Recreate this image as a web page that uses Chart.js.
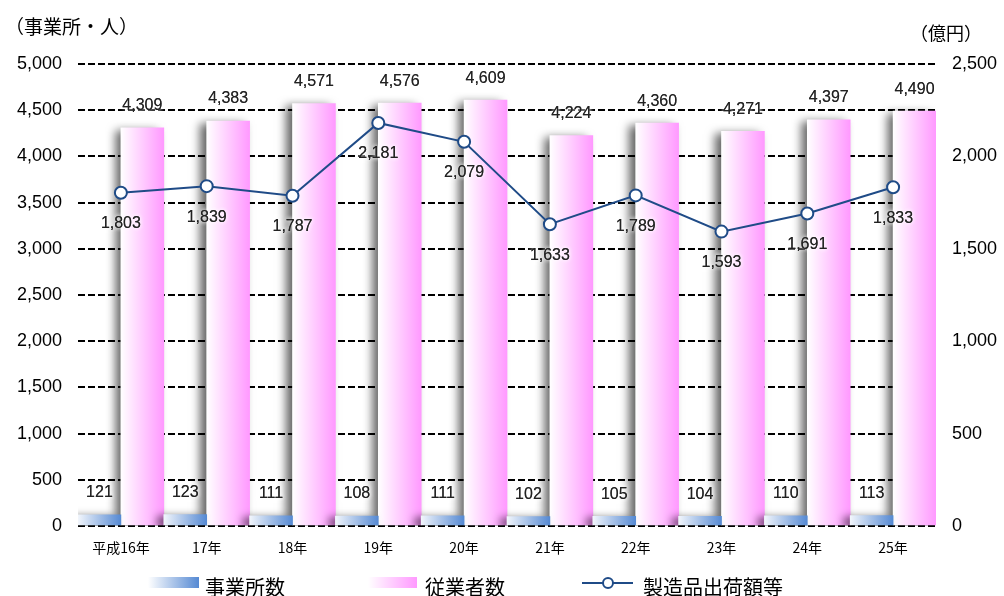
<!DOCTYPE html>
<html>
<head>
<meta charset="utf-8">
<script src="https://cdn.jsdelivr.net/npm/chart.js@4.4.1/dist/chart.umd.min.js"></script>
<style>
  html, body { margin: 0; padding: 0; background: #fff; }
  #wrap { width: 1004px; height: 596px; }
</style>
</head>
<body>
<div id="wrap"><canvas id="chart" width="1004" height="596"></canvas></div>
<script>
// Data
const years = ['平成16年', '17年', '18年', '19年', '20年', '21年', '22年', '23年', '24年', '25年'];
const establishments = [121, 123, 111, 108, 111, 102, 105, 104, 110, 113];      // 事業所数
const employees = [4309, 4383, 4571, 4576, 4609, 4224, 4360, 4271, 4397, 4490]; // 従業者数
const shipments = [1803, 1839, 1787, 2181, 2079, 1633, 1789, 1593, 1691, 1833]; // 製造品出荷額等 (億円)

const LINE_COLOR = '#1f4b87';
const NUM_FONT = '"Liberation Sans", Arial, sans-serif';
const JP_FONT = '"Noto Sans CJK JP", "Noto Sans", sans-serif';

const fmt = v => Number(v).toLocaleString('en-US');

// horizontal gradient across one bar (side 0 = left bar, 1 = right bar)
function barGradient(context, side, c0, c1) {
    const chart = context.chart;
    const x = chart.scales.x;
    if (!chart.chartArea || !x || context.dataIndex === undefined) return c1;
    const cw = (x.right - x.left) / years.length;
    const center = x.getPixelForValue(context.dataIndex);
    const left = side === 0 ? center - cw / 2 : center;
    const g = chart.ctx.createLinearGradient(left, 0, left + cw / 2, 0);
    g.addColorStop(0, c0);
    g.addColorStop(1, c1);
    return g;
}

// soft shadow on the left side of the bars
const barShadow = {
    id: 'barShadow',
    beforeDatasetDraw(chart, args) {
        if (args.meta.type !== 'bar') return;
        const ctx = chart.ctx;
        ctx.save();
        ctx.shadowColor = 'rgba(0,0,0,0.6)';
        ctx.shadowBlur = 9;
        ctx.shadowOffsetX = -6;
        ctx.shadowOffsetY = 2;
    },
    afterDatasetDraw(chart, args) {
        if (args.meta.type !== 'bar') return;
        chart.ctx.restore();
    }
};

// value labels with a white halo
const valueLabels = {
    id: 'valueLabels',
    afterDatasetsDraw(chart) {
        const ctx = chart.ctx;
        ctx.save();
        ctx.font = '16px ' + NUM_FONT;
        ctx.textAlign = 'center';
        ctx.textBaseline = 'middle';
        ctx.fillStyle = '#222';
        ctx.shadowColor = '#fff';
        ctx.shadowBlur = 4;
        chart.data.datasets.forEach((ds, i) => {
            const meta = chart.getDatasetMeta(i);
            meta.data.forEach((el, j) => {
                const y = meta.type === 'line' ? el.y + 31 : el.y - 22;
                ctx.fillText(fmt(ds.data[j]), el.x, y);
                ctx.fillText(fmt(ds.data[j]), el.x, y);
            });
        });
        ctx.restore();
    }
};

// axis unit titles and the legend at the bottom
const decorations = {
    id: 'decorations',
    afterDraw(chart) {
        const ctx = chart.ctx;
        ctx.save();
        ctx.fillStyle = '#000';
        ctx.textBaseline = 'middle';
        ctx.textAlign = 'left';
        ctx.font = '19px ' + JP_FONT;
        ctx.fillText('（事業所・人）', 5, 27);
        ctx.font = '18px ' + JP_FONT;
        ctx.fillText('（億円）', 910, 33);

        // legend
        const ly = 582;
        let g = ctx.createLinearGradient(148, 0, 199, 0);
        g.addColorStop(0, '#ffffff');
        g.addColorStop(1, '#5589d3');
        ctx.fillStyle = g;
        ctx.fillRect(148, ly - 5, 51, 11);

        g = ctx.createLinearGradient(368, 0, 417, 0);
        g.addColorStop(0, '#ffffff');
        g.addColorStop(1, '#ff99ff');
        ctx.fillStyle = g;
        ctx.fillRect(368, ly - 5, 49, 11);

        ctx.strokeStyle = LINE_COLOR;
        ctx.lineWidth = 2;
        ctx.beginPath();
        ctx.moveTo(582, ly + 1);
        ctx.lineTo(633, ly + 1);
        ctx.stroke();
        ctx.beginPath();
        ctx.arc(608, ly + 1, 5, 0, Math.PI * 2);
        ctx.fillStyle = '#fff';
        ctx.fill();
        ctx.stroke();

        ctx.fillStyle = '#000';
        ctx.font = '20px ' + JP_FONT;
        ctx.fillText('事業所数', 205, ly + 5);
        ctx.fillText('従業者数', 425, ly + 5);
        ctx.fillText('製造品出荷額等', 643, ly + 5);
        ctx.restore();
    }
};

new Chart(document.getElementById('chart'), {
    data: {
        labels: years,
        datasets: [
            {
                type: 'line',
                label: '製造品出荷額等',
                data: shipments,
                yAxisID: 'y1',
                order: 0,
                borderColor: LINE_COLOR,
                borderWidth: 2,
                pointRadius: 6,
                pointBorderWidth: 2,
                pointBackgroundColor: '#fff',
                pointBorderColor: LINE_COLOR,
                tension: 0
            },
            {
                type: 'bar',
                label: '事業所数',
                data: establishments,
                yAxisID: 'y',
                order: 1,
                backgroundColor: c => barGradient(c, 0, '#f2f6fc', '#5589d3'),
                barPercentage: 1,
                categoryPercentage: 1
            },
            {
                type: 'bar',
                label: '従業者数',
                data: employees,
                yAxisID: 'y',
                order: 2,
                backgroundColor: c => barGradient(c, 1, '#ffffff', '#ff99ff'),
                barPercentage: 1,
                categoryPercentage: 1
            }
        ]
    },
    options: {
        responsive: false,
        devicePixelRatio: 1,
        animation: false,
        layout: { padding: { top: 64, left: 0, right: 0, bottom: 0 } },
        plugins: {
            legend: { display: false },
            tooltip: { enabled: false }
        },
        scales: {
            x: {
                grid: { display: false, drawTicks: false },
                border: { display: false },
                ticks: {
                    color: '#000',
                    padding: 13,
                    font: { family: JP_FONT, size: 14 },
                    maxRotation: 0
                },
                afterFit: s => { s.height = 70; }
            },
            y: {
                position: 'left',
                min: 0,
                max: 5000,
                ticks: {
                    stepSize: 500,
                    color: '#000',
                    padding: 16,
                    font: { family: NUM_FONT, size: 18 },
                    callback: v => fmt(v)
                },
                grid: { color: '#000', lineWidth: 2, drawTicks: false },
                border: { display: false, dash: [7, 3] },
                afterFit: s => { s.width = 78; }
            },
            y1: {
                position: 'right',
                min: 0,
                max: 2500,
                ticks: {
                    stepSize: 500,
                    color: '#000',
                    padding: 16,
                    font: { family: NUM_FONT, size: 18 },
                    callback: v => fmt(v)
                },
                grid: { display: false, drawTicks: false },
                border: { display: false },
                afterFit: s => { s.width = 68; }
            }
        }
    },
    plugins: [barShadow, valueLabels, decorations]
});
</script>
</body>
</html>
